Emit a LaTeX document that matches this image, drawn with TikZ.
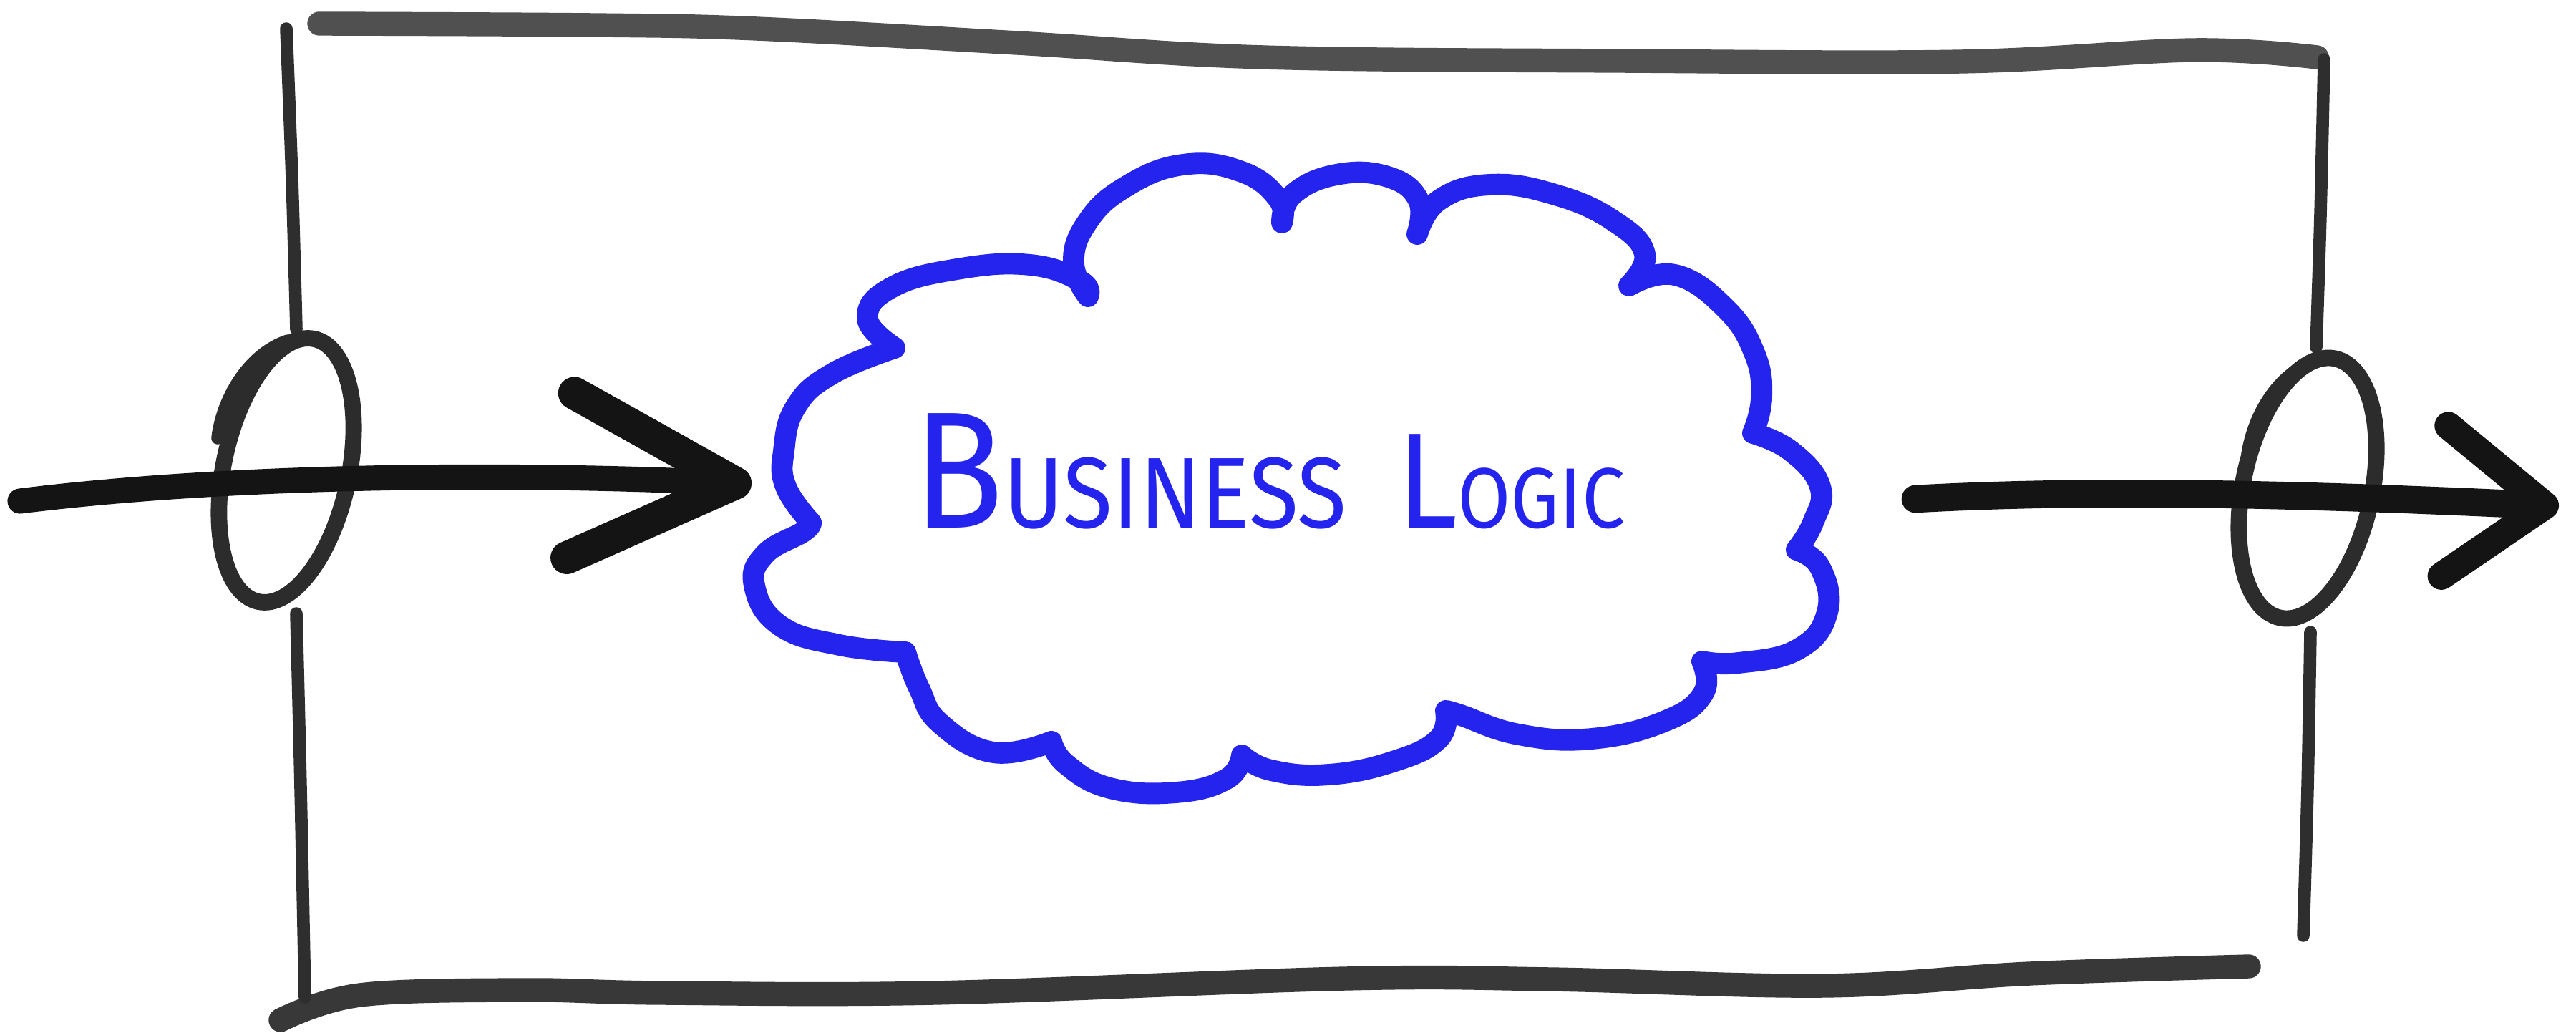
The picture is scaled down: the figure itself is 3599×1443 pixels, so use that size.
\documentclass[tikz,border=0pt]{standalone}
\usepackage{fontspec}
\newfontfamily\handfont{Fira Sans}
\usetikzlibrary{arrows.meta,shapes.geometric}
\definecolor{pen}{HTML}{141414}
\definecolor{boxgray}{HTML}{505050}
\definecolor{sidegray}{HTML}{2E2E2E}
\definecolor{cloudblue}{HTML}{2424EE}
\begin{document}
\begin{tikzpicture}[x=0.01cm,y=-0.01cm,
  boxedge/.style={draw=boxgray, line width=9.5pt, line cap=round, line join=round},
  boxside/.style={draw=sidegray, line width=5pt, line cap=round},
  port/.style={draw=pen!90, line width=6.5pt, ellipse, inner sep=0pt, minimum width=1.75cm, minimum height=3.75cm},
  porttail/.style={draw=pen!90, line width=5pt, line cap=round},
  flow/.style={draw=pen, line width=10pt, line cap=round, line join=round},
  cloudline/.style={draw=cloudblue, line width=8.5pt, line join=round, line cap=round},
]
\useasboundingbox (0,0) rectangle (3599,1443);

% box edges
\draw[boxedge] plot[smooth, tension=0.6] coordinates {(446,33) (828,35) (1057,40) (1421,60) (1765,80) (2262,85) (2740,86) (3065,70) (3237,80)};
\draw[boxedge, draw=sidegray!95] plot[smooth, tension=0.6] coordinates {(392,1425) (503,1390) (732,1383) (924,1387) (1306,1387) (1880,1367) (2166,1368) (2549,1377) (2836,1360) (3142,1350)};
\draw[boxside] plot[smooth] coordinates {(400,40) (408,250) (414,460)};
\draw[boxside] plot[smooth] coordinates {(414,857) (420,1100) (426,1393)};
\draw[boxside] plot[smooth] coordinates {(3247,83) (3242,300) (3236,485)};
\draw[boxside] plot[smooth] coordinates {(3228,883) (3224,1100) (3218,1307)};

% ports
\node[port, rotate=-12] (inport) at (400,657) {};
\node[port, rotate=-12, minimum width=1.8cm, minimum height=3.7cm] (outport) at (3224,682) {};
\draw[porttail] (304,612) .. controls (310,560) and (345,495) .. (402,476);
\draw[porttail] (3140,635) .. controls (3148,580) and (3185,515) .. (3242,503);

% cloud
\draw[cloudline]
  plot[smooth, tension=0.75] coordinates {(1133,730) (1098,680) (1095,630) (1112,568) (1163,522) (1250,486)}
  -- plot[smooth, tension=0.75] coordinates {(1250,486) (1212,445) (1245,402) (1337,376) (1439,370) (1510,393) (1520,414)}
  -- plot[smooth, tension=0.75] coordinates {(1520,414) (1500,368) (1518,312) (1571,262) (1653,230) (1735,240) (1786,278) (1791,311)}
  -- plot[smooth, tension=0.75] coordinates {(1791,311) (1806,272) (1867,244) (1939,247) (1982,280) (1980,327)}
  -- plot[smooth, tension=0.75] coordinates {(1980,327) (2010,280) (2082,258) (2173,272) (2255,309) (2298,355) (2276,399)}
  -- plot[smooth, tension=0.75] coordinates {(2276,399) (2340,384) (2410,430) (2451,493) (2461,555) (2449,605)}
  -- plot[smooth, tension=0.75] coordinates {(2449,605) (2502,630) (2543,680) (2533,730) (2510,768)}
  -- plot[smooth, tension=0.75] coordinates {(2510,768) (2543,793) (2553,855) (2512,907) (2429,926) (2378,924)}
  -- plot[smooth, tension=0.75] coordinates {(2378,924) (2380,968) (2327,1007) (2224,1032) (2122,1026) (2041,999) (2020,993)}
  -- plot[smooth, tension=0.75] coordinates {(2020,993) (2010,1032) (1949,1063) (1857,1082) (1776,1076) (1735,1055)}
  -- plot[smooth, tension=0.75] coordinates {(1735,1055) (1714,1088) (1643,1107) (1551,1101) (1490,1068) (1469,1036)}
  -- plot[smooth, tension=0.75] coordinates {(1469,1036) (1388,1051) (1314,1011) (1284,961) (1265,911)}
  -- plot[smooth, tension=0.75] coordinates {(1265,911) (1173,901) (1090,874) (1054,818) (1069,774) (1122,743) (1133,730)}
  -- cycle;

\node[anchor=base west, text=cloudblue, inner sep=0pt] (logic) at (1275,738)
  {\handfont\scalebox{0.9}[1]{\fontsize{66}{70}\selectfont B\fontsize{40}{44}\selectfont USINESS\hspace{0.55em}\fontsize{54}{58}\selectfont L\fontsize{34}{38}\selectfont OGIC}};

% flows
\coordinate (inSrc) at (28,700);
\coordinate (cloudW) at (1050,676);
\coordinate (outSrc) at (2676,697);
\coordinate (outDst) at (3575,707);
\draw[flow, -{Straight Barb[length=23mm, width=23mm, line width=13pt, round]}] (inSrc) .. controls (350,660) and (750,662) .. (cloudW);
\draw[flow, line width=11pt, -{Straight Barb[length=14mm, width=21mm, line width=11pt, round]}] (outSrc) .. controls (2950,682) and (3250,692) .. (outDst);
\end{tikzpicture}
\end{document}
